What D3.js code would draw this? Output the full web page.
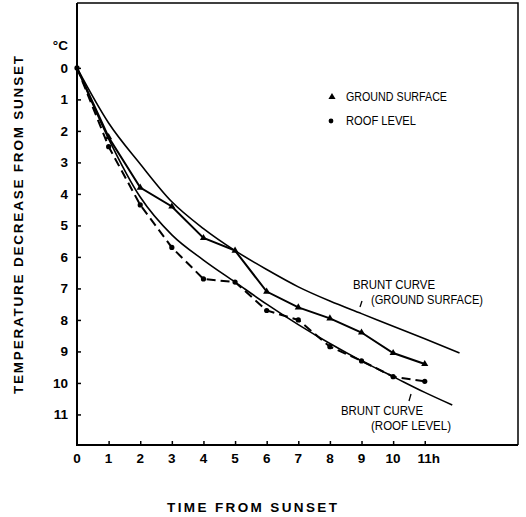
<!DOCTYPE html>
<html>
<head>
<meta charset="utf-8">
<script src="https://cdn.jsdelivr.net/npm/d3@7"></script>
<style>
  body { margin: 0; background: #fff; }
  svg { display: block; font-family: "Liberation Sans", Arial, sans-serif; }
  .tick-label { font-weight: bold; font-size: 13.5px; }
  .title { font-weight: bold; font-size: 13.5px; }
  .note { font-size: 12px; }
</style>
</head>
<body>
<div id="viz"></div>
<script>
// hours after sunset
var hours = [0, 1, 2, 3, 4, 5, 6, 7, 8, 9, 10, 11]
// measured temperature decrease (deg C)
var groundSurface = [0, 2.2, 3.8, 4.4, 5.4, 5.8, 7.1, 7.6, 7.95, 8.4, 9.05, 9.4]
var roofLevel = [0, 2.5, 4.35, 5.7, 6.7, 6.8, 7.7, 8.0, 8.85, 9.3, 9.8, 9.95]

// Brunt curves
var bruntGroundHours = [0, 1, 2, 3, 4, 5, 6, 7, 8, 9, 10, 11, 12.1]
var bruntGround = [0, 1.75, 3.05, 4.25, 5.1, 5.8, 6.4, 6.95, 7.4, 7.8, 8.2, 8.6, 9.05]
var bruntRoofHours = [0, 1, 2, 3, 4, 5, 6, 7, 8, 9, 10, 11, 11.87]
var bruntRoof = [0, 2.25, 4.1, 5.3, 6.1, 6.8, 7.5, 8.15, 8.75, 9.3, 9.8, 10.3, 10.7]

var xTicks = [0, 1, 2, 3, 4, 5, 6, 7, 8, 9, 10, 11]
var xTickLabels = ["0", "1", "2", "3", "4", "5", "6", "7", "8", "9", "10", "11h"]
var yTicks = [0, 1, 2, 3, 4, 5, 6, 7, 8, 9, 10, 11]

const width = 526
const height = 517

const x = d3.scaleLinear().domain([0, 13.95]).range([77, 518])
const y = d3.scaleLinear().domain([-2.06, 11.97]).range([3, 445])

const svg = d3.select("#viz")
    .append("svg")
    .attr("width", width)
    .attr("height", height)

// frame: top and right thinner, left and bottom heavier
svg.append("path")
    .attr("d", `M${x(0)},${y(-2.06)}H${x(13.95)}V${y(11.97)}`)
    .attr("fill", "none")
    .attr("stroke", "black")
    .attr("stroke-width", 1.5)

svg.append("path")
    .attr("d", `M${x(0)},${y(-2.06)}V${y(11.97)}H${x(13.95)}`)
    .attr("fill", "none")
    .attr("stroke", "black")
    .attr("stroke-width", 2)

// y axis ticks (inward)
const yAxis = d3.axisRight(y).tickValues(yTicks).tickSize(4).tickFormat("")
const gy = svg.append("g").attr("transform", `translate(${x(0)},0)`).call(yAxis)
gy.select(".domain").remove()
gy.selectAll("line").attr("stroke-width", 1.5)

svg.append("g").selectAll("text")
    .data(yTicks)
    .join("text")
    .attr("class", "tick-label")
    .attr("x", 68)
    .attr("y", d => y(d))
    .attr("dy", "0.36em")
    .attr("text-anchor", "end")
    .text(d => d)

svg.append("text")
    .attr("class", "tick-label")
    .attr("x", 68)
    .attr("y", 45)
    .attr("dy", "0.36em")
    .attr("text-anchor", "end")
    .text("\u00b0C")

// x axis ticks (inward)
const xAxis = d3.axisTop(x).tickValues(xTicks.slice(1)).tickSize(4).tickFormat("")
const gx = svg.append("g").attr("transform", `translate(0,${y(11.97)})`).call(xAxis)
gx.select(".domain").remove()
gx.selectAll("line").attr("stroke-width", 1.5)

svg.append("g").selectAll("text")
    .data(xTicks)
    .join("text")
    .attr("class", "tick-label")
    .attr("x", (d, i) => x(d) + (i == 11 ? 4 : 0))
    .attr("y", 463)
    .attr("text-anchor", "middle")
    .text((d, i) => xTickLabels[i])

// axis titles
svg.append("text")
    .attr("class", "title")
    .attr("x", 252)
    .attr("y", 512)
    .attr("text-anchor", "middle")
    .attr("textLength", 170)
    .attr("lengthAdjust", "spacing")
    .text("TIME  FROM  SUNSET")

svg.append("text")
    .attr("class", "title")
    .attr("transform", "translate(23,225) rotate(-90)")
    .attr("text-anchor", "middle")
    .attr("textLength", 338)
    .attr("lengthAdjust", "spacing")
    .text("TEMPERATURE  DECREASE  FROM  SUNSET")

// curves
const smooth = d3.line().x(d => x(d[0])).y(d => y(d[1])).curve(d3.curveMonotoneX)
const straight = d3.line().x(d => x(d[0])).y(d => y(d[1]))

svg.append("path")
    .datum(bruntGroundHours.map((h, i) => [h, bruntGround[i]]))
    .attr("d", smooth)
    .attr("fill", "none")
    .attr("stroke", "black")
    .attr("stroke-width", 1.6)

svg.append("path")
    .datum(bruntRoofHours.map((h, i) => [h, bruntRoof[i]]))
    .attr("d", smooth)
    .attr("fill", "none")
    .attr("stroke", "black")
    .attr("stroke-width", 1.6)

var groundPts = hours.map((h, i) => [h, groundSurface[i]])
var roofPts = hours.map((h, i) => [h, roofLevel[i]])

svg.append("path")
    .datum(groundPts)
    .attr("d", straight)
    .attr("fill", "none")
    .attr("stroke", "black")
    .attr("stroke-width", 2)

svg.append("path")
    .datum(roofPts)
    .attr("d", straight)
    .attr("fill", "none")
    .attr("stroke", "black")
    .attr("stroke-width", 2)
    .attr("stroke-dasharray", "9,5")

const tri = d3.symbol().type(d3.symbolTriangle).size(22)

svg.append("g").selectAll("path")
    .data(groundPts.slice(1))
    .join("path")
    .attr("d", tri)
    .attr("transform", d => `translate(${x(d[0])},${y(d[1])})`)
    .attr("fill", "black")

svg.append("g").selectAll("circle")
    .data(roofPts.slice(1))
    .join("circle")
    .attr("cx", d => x(d[0]))
    .attr("cy", d => y(d[1]))
    .attr("r", 2.6)
    .attr("fill", "black")

// origin marker
svg.append("circle")
    .attr("cx", x(0)).attr("cy", y(0)).attr("r", 2.6).attr("fill", "black")

// legend
svg.append("path")
    .attr("d", tri)
    .attr("transform", "translate(332,97)")
    .attr("fill", "black")
svg.append("circle")
    .attr("cx", 331).attr("cy", 121).attr("r", 2.4).attr("fill", "black")

svg.append("text").attr("class", "note")
    .attr("x", 346).attr("y", 97).attr("dy", "0.36em")
    .attr("textLength", 101).attr("lengthAdjust", "spacingAndGlyphs")
    .text("GROUND  SURFACE")
svg.append("text").attr("class", "note")
    .attr("x", 346).attr("y", 121).attr("dy", "0.36em")
    .attr("textLength", 70).attr("lengthAdjust", "spacingAndGlyphs")
    .text("ROOF  LEVEL")

// curve annotations
svg.append("text").attr("class", "note")
    .attr("x", 353).attr("y", 285).attr("dy", "0.36em")
    .attr("textLength", 82).attr("lengthAdjust", "spacingAndGlyphs")
    .text("BRUNT  CURVE")
svg.append("text").attr("class", "note")
    .attr("x", 371).attr("y", 300).attr("dy", "0.36em")
    .attr("textLength", 112).attr("lengthAdjust", "spacingAndGlyphs")
    .text("(GROUND  SURFACE)")
svg.append("line")
    .attr("x1", 360).attr("y1", 307).attr("x2", 362).attr("y2", 301)
    .attr("stroke", "black").attr("stroke-width", 1.3)

svg.append("text").attr("class", "note")
    .attr("x", 341).attr("y", 411).attr("dy", "0.36em")
    .attr("textLength", 82).attr("lengthAdjust", "spacingAndGlyphs")
    .text("BRUNT  CURVE")
svg.append("text").attr("class", "note")
    .attr("x", 371).attr("y", 426).attr("dy", "0.36em")
    .attr("textLength", 80).attr("lengthAdjust", "spacingAndGlyphs")
    .text("(ROOF  LEVEL)")
svg.append("line")
    .attr("x1", 409).attr("y1", 401).attr("x2", 411).attr("y2", 394)
    .attr("stroke", "black").attr("stroke-width", 1.3)
</script>
</body>
</html>
